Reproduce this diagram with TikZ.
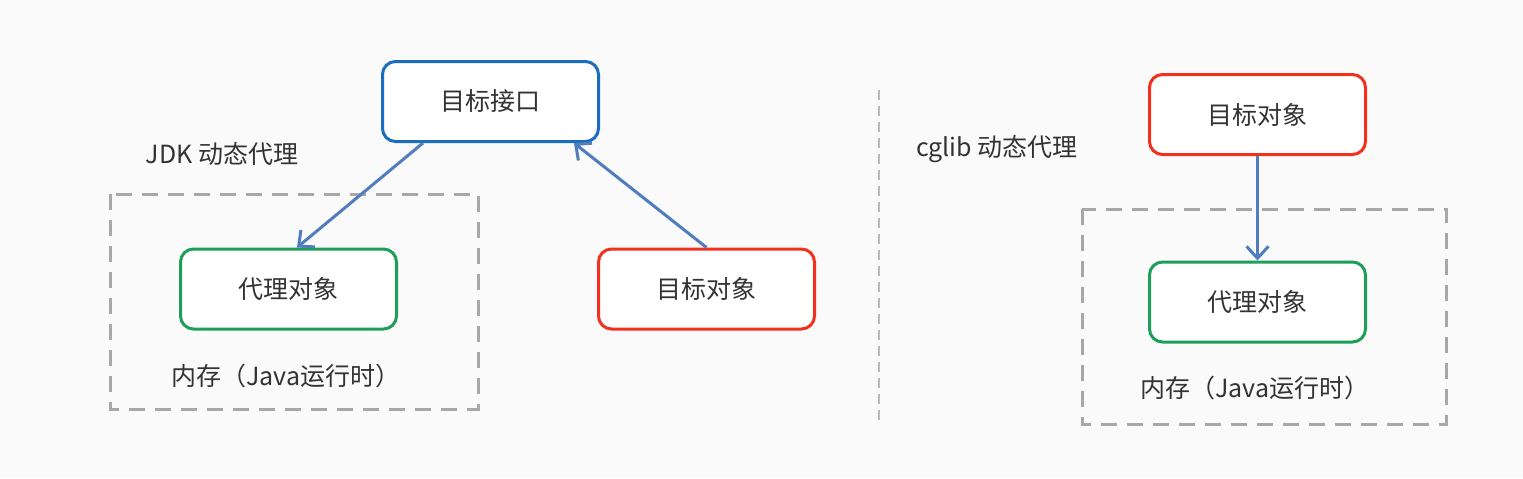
\documentclass[tikz,border=0pt]{standalone}
\usepackage{fontspec}
\setmainfont{Noto Sans CJK SC}
\usetikzlibrary{arrows.meta,calc}
\definecolor{bluebox}{HTML}{1C6CC0}
\definecolor{redbox}{HTML}{F2301E}
\definecolor{greenbox}{HTML}{1E9E58}
\definecolor{arrowc}{HTML}{4F7DBE}
\definecolor{dashc}{HTML}{A8A8A8}
\definecolor{txt}{HTML}{333333}
\tikzset{
  boxnode/.style={draw, line width=1.5pt, rounded corners=6.5pt, minimum width=108pt, minimum height=40pt, inner sep=0pt, font=\fontsize{12.5}{14}\selectfont, text=txt, fill=white},
  bluen/.style={boxnode, draw=bluebox},
  redn/.style={boxnode, draw=redbox},
  greenn/.style={boxnode, draw=greenbox},
  lbl/.style={font=\fontsize{12.5}{14}\selectfont, text=txt, inner sep=0pt},
  memfrm/.style={draw=dashc, line width=1.5pt, dash pattern=on 8pt off 5pt},
  conn/.style={draw=arrowc, line width=1.5pt, -{Straight Barb[length=6pt,width=11pt,line width=1.5pt]}},
}
\begin{document}
\begin{tikzpicture}[x=0.5pt,y=-0.5pt]
\fill[white!98!black] (0,0) rectangle (1523,478);
\useasboundingbox (0,0) rectangle (1523,478);
% left part
\draw[memfrm] (110,194) rectangle (478,409);
\node[bluen] (li) at (490.5,101.5) {目标接口};
\node[greenn] (lp) at (288.5,289) {代理对象};
\node[redn] (lt) at (706.5,289) {目标对象};
\node[lbl] (ljdk) at (222,154) {JDK 动态代理};
\node[lbl] (lmem) at (286,376) {内存（Java运行时）};
\coordinate (la) at ($(li.south west)+(42,0)$);
\coordinate (lb) at ($(lp.north)+(8.5,0)$);
\coordinate (lc) at ($(li.south east)+(-26,0)$);
\draw[conn] (la) -- (lb);
\draw[conn] (lt.north) -- (lc);
% divider
\draw[dashc!80, line width=1pt, dash pattern=on 5pt off 3pt] (879,90) -- (879,422);
% right part
\draw[memfrm] (1082,209) rectangle (1446,424);
\node[redn] (rt) at (1257.5,114.5) {目标对象};
\node[greenn] (rp) at (1257.5,302) {代理对象};
\node[lbl] (rcg) at (997,149) {cglib 动态代理};
\node[lbl] (rmem) at (1255,388) {内存（Java运行时）};
\draw[conn] (rt.south) -- (rp.north);
\end{tikzpicture}
\end{document}
